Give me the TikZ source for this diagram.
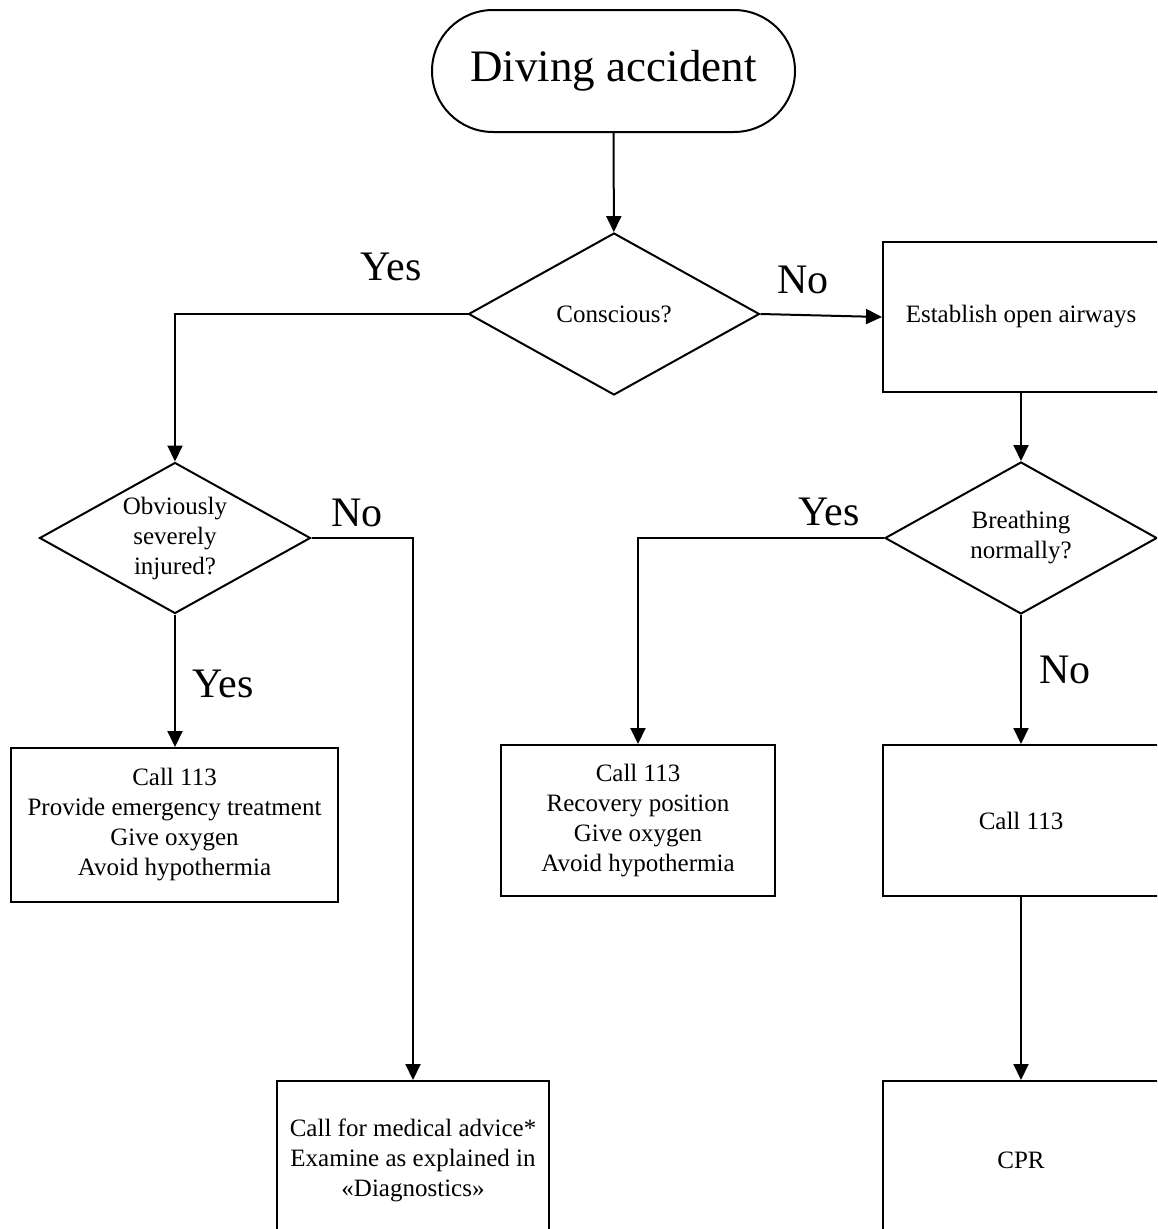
\documentclass[tikz,border=0pt]{standalone}
\usepackage{fontspec}
\setmainfont{Liberation Serif}
\usetikzlibrary{shapes.geometric,arrows.meta}

\tikzset{
  terminal/.style={draw,line width=2pt,rectangle,rounded corners=61pt,
    minimum width=363pt,minimum height=122pt,font=\fontsize{45}{54}\selectfont},
  decision/.style={draw,line width=2pt,diamond,shape aspect=1.8,inner sep=0pt,
    align=center,font=\fontsize{25}{30}\selectfont},
  process/.style={draw,line width=2pt,rectangle,inner sep=0pt,
    align=center,font=\fontsize{25}{30}\selectfont},
  answer/.style={anchor=base,font=\fontsize{42}{50}\selectfont},
  flow/.style={line width=2pt,-{Triangle[length=16pt,width=15pt]}}
}

\begin{document}
\begin{tikzpicture}[x=1pt,y=-1pt]
    \clip (0,0) rectangle (1157,1229);
    % start and first question
    \node[terminal] (start) at (613.5,71) {Diving accident};
    \node[decision,minimum width=291pt,minimum height=162pt] (conscious) at (614,314) {Conscious?};
    \node[process,minimum width=276pt,minimum height=150pt] (airways) at (1021,317) {Establish open airways};
    % right branch
    \node[decision,minimum width=272pt,minimum height=152pt] (breathing) at (1021,538) {Breathing\\normally?};
    \node[process,minimum width=274pt,minimum height=151pt] (recovery) at (638,820.5)
        {Call 113\\Recovery position\\Give oxygen\\Avoid hypothermia};
    \node[process,minimum width=276pt,minimum height=151pt] (call) at (1021,820.5) {Call 113};
    \node[process,minimum width=276pt,minimum height=158pt] (cpr) at (1021,1160) {CPR};
    % left branch
    \node[decision,minimum width=271pt,minimum height=151pt] (injured) at (175,538) {Obviously\\severely\\injured?};
    \node[process,minimum width=327pt,minimum height=154pt] (severe) at (174.5,825)
        {Call 113\\Provide emergency treatment\\Give oxygen\\Avoid hypothermia};
    \node[process,minimum width=272pt,minimum height=158pt] (advice) at (413,1160)
        {Call for medical advice*\\Examine as explained in\\«Diagnostics»};

    \draw[flow] (start) -- (conscious);
    \draw[flow] (conscious.west) -| (injured.north);
    \draw[flow] (conscious.east) -- (airways.west);
    \draw[flow] (airways) -- (breathing);
    \draw[flow] (breathing.west) -| (recovery.north);
    \draw[flow] (breathing) -- (call);
    \draw[flow] (call) -- (cpr);
    \draw[flow] (injured) -- (severe.north -| injured.south);
    \draw[flow] (injured.east) -| (advice.north);

    % answers
    \node[answer] (yes1) at (391,280) {Yes};
    \node[answer] (no1) at (803,293) {No};
    \node[answer] (no2) at (357,526) {No};
    \node[answer] (yes2) at (223,697) {Yes};
    \node[answer] (yes3) at (829,525) {Yes};
    \node[answer] (no3) at (1065,683) {No};
\end{tikzpicture}
\end{document}
